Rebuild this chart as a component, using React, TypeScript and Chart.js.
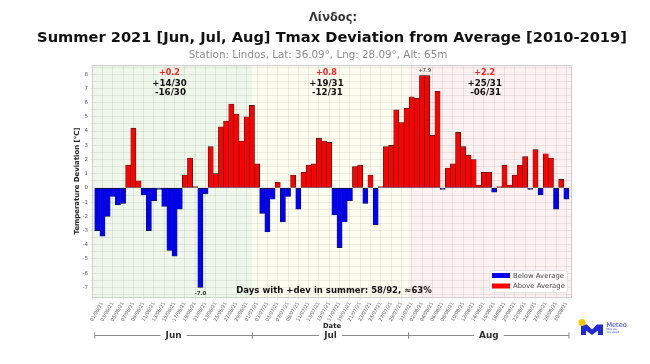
import React, { useEffect, useRef } from 'react';
import { Chart, registerables } from 'chart.js';
Chart.register(...registerables);

// ---------- data ----------
const junDev = [-3.0, -3.4, -2.0, -0.6, -1.2, -1.1, 1.6, 4.2, 0.5, -0.5, -3.0, -0.9, -0.1, -1.3, -4.4, -4.8, -1.5, 0.9, 2.1, 0.1, -7.0, -0.4, 2.9, 1.0, 4.3, 4.7, 5.9, 5.2, 3.3, 5.0];
const julDev = [5.8, 1.7, -1.8, -3.1, -0.8, 0.4, -2.4, -0.6, 0.9, -1.5, 1.1, 1.6, 1.7, 3.5, 3.3, 3.2, -1.9, -4.2, -2.4, -0.9, 1.5, 1.6, -1.1, 0.9, -2.6, 0.1, 2.9, 3.0, 5.5, 4.6, 5.6];
const augDev = [6.4, 6.3, 7.9, 7.9, 3.7, 6.8, -0.1, 1.4, 1.7, 3.9, 2.9, 2.3, 2.0, 0.2, 1.1, 1.1, -0.3, 0.1, 1.6, 0.2, 0.9, 1.6, 2.2, -0.1, 2.7, -0.5, 2.4, 2.1, -1.5, 0.6, -0.8];
const monthCodes = ['06', '07', '08'];
const monthNames = ['Jun', 'Jul', 'Aug'];
const monthMeans = ['+0.2', '+0.8', '+2.2'];
const monthPos = ['+14/30', '+19/31', '+25/31'];
const monthNeg = ['-16/30', '-12/31', '-06/31'];
const yTickValues = [-7, -6, -5, -4, -3, -2, -1, 0, 1, 2, 3, 4, 5, 6, 7, 8];
const summaryText = 'Days with +dev in summer: 58/92, \u224863%';
const titleCity = 'Λίνδος:';
const titleMain = 'Summer 2021 [Jun, Jul, Aug] Tmax Deviation from Average [2010-2019]';
const titleSub = 'Station: Lindos, Lat: 36.09°, Lng: 28.09°, Alt: 65m';

const monthsDev = [junDev, julDev, augDev];
const allDev = [...junDev, ...julDev, ...augDev];
const dateLabels: string[] = [];
monthsDev.forEach((arr, m) => arr.forEach((_, d) => dateLabels.push(String(d + 1).padStart(2, '0') + '/' + monthCodes[m] + '/21')));
const xTickIdx = dateLabels.map((_, i) => i).filter((i) => i % 2 === 0);
const yGridValues: number[] = [];
yTickValues.forEach((v) => { yGridValues.push(v - 0.5); yGridValues.push(v); });
yGridValues.push(8.5);
const minIdx = allDev.indexOf(Math.min(...allDev));
const maxIdx = allDev.indexOf(Math.max(...allDev));

// ---------- layout constants ----------
const X_MIN = -1.024;
const X_MAX = 92.09;
const Y_MIN = -7.745;
const Y_MAX = 8.645;
const monthEdges = [-0.5, 30.1, 60.4, 91.5];
const shade = ['#eff7eb', '#fdfdf0', '#fdf1f1'];
const FONT = '"DejaVu Sans", sans-serif';

function fitFont(ctx: CanvasRenderingContext2D, text: string, width: number, weight: string) {
  ctx.font = `${weight} 10px ${FONT}`;
  const w = ctx.measureText(text).width;
  const size = (10 * width) / w;
  ctx.font = `${weight} ${size}px ${FONT}`;
  return size;
}

function drawText(ctx: CanvasRenderingContext2D, text: string, cx: number, cy: number, width: number, weight: string, color: string) {
  fitFont(ctx, text, width, weight);
  ctx.fillStyle = color;
  ctx.textAlign = 'center';
  ctx.textBaseline = 'middle';
  ctx.fillText(text, cx, cy);
}

const decor = {
  id: 'decor',
  beforeDraw(chart: any) {
    const { ctx, chartArea: a, scales } = chart;
    const x = scales.x;
    ctx.save();
    ctx.fillStyle = '#ffffff';
    ctx.fillRect(0, 0, chart.width, chart.height);
    for (let m = 0; m < 3; m++) {
      const x0 = m === 0 ? a.left : x.getPixelForValue(monthEdges[m]);
      const x1 = m === 2 ? a.right : x.getPixelForValue(monthEdges[m + 1]);
      ctx.fillStyle = shade[m];
      ctx.fillRect(x0, a.top, x1 - x0, a.bottom - a.top);
    }
    ctx.restore();
  },
  afterDraw(chart: any) {
    const { ctx, chartArea: a, scales } = chart;
    const x = scales.x;
    const y = scales.y;
    ctx.save();
    // frame
    ctx.strokeStyle = '#cfcfcf';
    ctx.lineWidth = 1;
    ctx.strokeRect(a.left + 0.5, a.top + 0.5, a.right - a.left - 1, a.bottom - a.top - 1);

    // titles
    drawText(ctx, titleCity, 333, 18, 48, 'bold', '#333');
    drawText(ctx, titleMain, 332, 38, 590, 'bold', '#111');
    drawText(ctx, titleSub, 318, 55, 259, 'normal', '#8a8a8a');

    // y title
    ctx.save();
    ctx.translate(77, 181);
    ctx.rotate(-Math.PI / 2);
    drawText(ctx, 'Temperature Deviation [°C]', 0, 0, 107, 'bold', '#222');
    ctx.restore();

    // month annotations
    for (let m = 0; m < 3; m++) {
      const mid = (monthEdges[m] + monthEdges[m + 1]) / 2 - 0.8;
      const cx = x.getPixelForValue(mid);
      drawText(ctx, monthMeans[m], cx, 73, 21, 'bold', '#ff2020');
      drawText(ctx, monthPos[m], cx, 83.5, 34.5, 'bold', '#111');
      drawText(ctx, monthNeg[m], cx + 1, 93, 31, 'bold', '#111');
    }

    // extreme labels
    drawText(ctx, allDev[minIdx].toFixed(1), x.getPixelForValue(minIdx), y.getPixelForValue(allDev[minIdx]) + 6.5, 12, 'bold', '#333');
    drawText(ctx, '+' + allDev[maxIdx].toFixed(1), x.getPixelForValue(maxIdx + 0.5), y.getPixelForValue(allDev[maxIdx]) - 4.5, 13, 'normal', '#222');

    // summary
    drawText(ctx, summaryText, 334, 291, 196, 'bold', '#111');

    // legend
    ctx.fillStyle = 'rgba(255,255,255,0.85)';
    ctx.strokeStyle = '#dddddd';
    ctx.lineWidth = 0.8;
    ctx.beginPath();
    ctx.roundRect(489.5, 270.5, 78, 22, 2);
    ctx.fill();
    ctx.stroke();
    ctx.fillStyle = '#0000ff';
    ctx.fillRect(492, 273, 18, 5);
    ctx.fillStyle = '#ff0000';
    ctx.fillRect(492, 283.5, 18, 5);
    fitFont(ctx, 'Below Average', 51, 'normal');
    ctx.fillStyle = '#444';
    ctx.textAlign = 'left';
    ctx.textBaseline = 'middle';
    ctx.fillText('Below Average', 513, 276);
    ctx.fillText('Above Average', 513, 286.5);

    // Date label and month brackets
    drawText(ctx, 'Date', 332, 326, 18, 'bold', '#222');
    const by = 335.5;
    ctx.strokeStyle = '#8c8c8c';
    ctx.lineWidth = 1;
    const mSize = fitFont(ctx, monthNames[0], 16, 'bold');
    for (let m = 0; m < 3; m++) {
      const x0 = x.getPixelForValue(monthEdges[m]);
      const x1 = x.getPixelForValue(monthEdges[m + 1]);
      const cx = (x0 + x1) / 2;
      ctx.font = `bold ${mSize}px ${FONT}`;
      const tw = ctx.measureText(monthNames[m]).width;
      ctx.beginPath();
      ctx.moveTo(x0, by); ctx.lineTo(cx - tw / 2 - 5, by);
      ctx.moveTo(cx + tw / 2 + 5, by); ctx.lineTo(x1, by);
      ctx.moveTo(x0, by - 3); ctx.lineTo(x0, by + 3);
      ctx.moveTo(x1, by - 3); ctx.lineTo(x1, by + 3);
      ctx.stroke();
      ctx.fillStyle = '#333';
      ctx.textAlign = 'center';
      ctx.textBaseline = 'middle';
      ctx.fillText(monthNames[m], cx, by);
    }

    // logo
    ctx.fillStyle = '#1f2ad6';
    ctx.beginPath();
    const pts = [[581, 335], [581, 324.5], [587, 324.5], [592, 329.5], [597, 324.5], [603, 324.5], [603, 335], [598, 335], [598, 330.5], [592, 335], [586, 330.5], [586, 335]];
    pts.forEach((p, i) => (i === 0 ? ctx.moveTo(p[0], p[1]) : ctx.lineTo(p[0], p[1])));
    ctx.closePath();
    ctx.fill();
    ctx.fillStyle = '#f5c800';
    ctx.beginPath();
    ctx.arc(582, 322.5, 3.5, 0, Math.PI * 2);
    ctx.fill();
    ctx.fillStyle = '#1f2ad6';
    ctx.textAlign = 'left';
    ctx.font = `6.5px ${FONT}`;
    ctx.fillText('Meteo', 606.5, 325);
    ctx.font = `2.6px ${FONT}`;
    ctx.fillText('Όλα για', 606.5, 329.5);
    ctx.fillText('τον καιρό', 606.5, 332.5);
    ctx.restore();
  },
};

export default function App() {
  const ref = useRef<HTMLCanvasElement | null>(null);
  useEffect(() => {
    document.body.style.margin = '0';
    const canvas = ref.current;
    if (!canvas) return;
    const chart = new Chart(canvas, {
      type: 'bar',
      data: {
        datasets: [
          {
            label: 'Deviation',
            data: allDev.map((v, i) => ({ x: i, y: v })),
            backgroundColor: allDev.map((v) => (v >= 0 ? '#ff0000' : '#0000ff')),
            borderColor: '#1a1a1a',
            borderWidth: 0.6,
            borderSkipped: false,
            barPercentage: 1,
            categoryPercentage: 1,
          } as any,
        ],
      },
      options: {
        responsive: false,
        animation: false,
        devicePixelRatio: 1,
        events: [],
        layout: { padding: { left: 0, top: 65, right: 78, bottom: 0 } },
        plugins: { legend: { display: false }, tooltip: { enabled: false }, title: { display: false } },
        scales: {
          x: {
            type: 'linear',
            min: X_MIN,
            max: X_MAX,
            offset: false,
            afterBuildTicks: (s: any) => { s.ticks = xTickIdx.map((v) => ({ value: v })); },
            afterFit: (s: any) => { s.height = 66; },
            ticks: {
              autoSkip: false,
              minRotation: 60,
              maxRotation: 60,
              padding: 1,
              labelOffset: 5,
              color: '#555',
              font: { size: 4.8, family: FONT },
              callback: (v: any) => dateLabels[v] ?? '',
            },
            grid: { color: 'rgba(0,0,0,0.07)', tickLength: 2, drawTicks: true },
            border: { display: false },
          },
          y: {
            min: Y_MIN,
            max: Y_MAX,
            afterBuildTicks: (s: any) => { s.ticks = yGridValues.map((v) => ({ value: v })); },
            afterFit: (s: any) => { s.width = 92; },
            ticks: {
              autoSkip: false,
              padding: 2,
              color: '#555',
              font: { size: 5.5, family: FONT },
              callback: (v: any) => (yTickValues.includes(v) ? String(v) : ''),
            },
            grid: { color: 'rgba(0,0,0,0.07)', tickLength: 2, drawTicks: true },
            border: { display: false },
          },
        },
      } as any,
      plugins: [decor],
    });
    return () => chart.destroy();
  }, []);
  return (
    <div style={{ width: 650, height: 364 }}>
      <canvas ref={ref} width={650} height={364} style={{ display: 'block' }} />
    </div>
  );
}
